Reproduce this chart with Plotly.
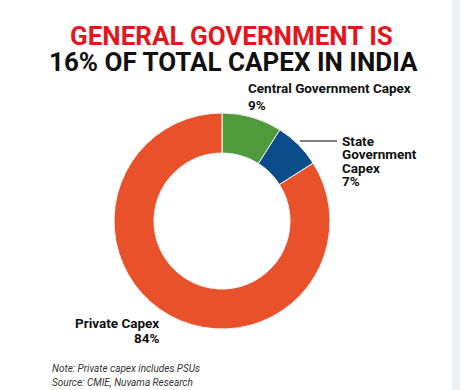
import plotly.graph_objects as go

W, H = 460, 390

categories = ["Central Government Capex", "State Government Capex", "Private Capex"]
values = [9, 7, 84]
colors = ["#4F9A3B", "#0B4C8A", "#E8512A"]

title_line1 = "GENERAL GOVERNMENT IS"
title_line2 = "16% OF TOTAL CAPEX IN INDIA"
note_lines = ["Note: Private capex includes PSUs", "Source: CMIE, Nuvama Research"]

def px(x):
    return x / W

def py(y):
    return 1 - y / H

cx, cy, r = 222, 221, 108

fig = go.Figure()
fig.add_trace(go.Pie(
    labels=categories,
    values=values,
    hole=0.63,
    sort=False,
    direction="clockwise",
    rotation=0,
    marker=dict(colors=colors, line=dict(color="#f4f4f4", width=1)),
    textinfo="none",
    hoverinfo="label+percent",
    showlegend=False,
    domain=dict(x=[px(cx - r), px(cx + r)], y=[py(cy + r), py(cy - r)]),
))

FONT = "Roboto"
ann = []
ann.append(dict(x=px(231), y=py(35.5), text="<b>" + title_line1 + "</b>", showarrow=False,
                xanchor="center", yanchor="middle",
                font=dict(family=FONT, size=26, color="#E3161E")))
ann.append(dict(x=px(234), y=py(62.5), text="<b>" + title_line2 + "</b>", showarrow=False,
                xanchor="center", yanchor="middle",
                font=dict(family=FONT, size=26, color="#111111")))

lab_font = dict(family=FONT, size=13.5, color="#111111")

def line_ann(x, y, text, anchor="left"):
    return dict(x=px(x), y=py(y), text="<b>" + text + "</b>", showarrow=False,
                xanchor=anchor, yanchor="middle", align=anchor, font=lab_font)

# Central label
ann.append(line_ann(246, 88.5, categories[0]))
ann.append(line_ann(246, 105, "%d%%" % values[0]))
# State label
for y, t in zip([141, 154, 167.5, 181], ["State", "Government", "Capex", "%d%%" % values[1]]):
    ann.append(line_ann(340, y, t))
# Private label
ann.append(line_ann(161, 323, categories[2], anchor="right"))
ann.append(line_ann(161, 337.5, "%d%%" % values[2], anchor="right"))

note_font = dict(family=FONT, size=10, color="#333333")
ann.append(dict(x=px(50), y=py(368), text="<i>" + note_lines[0] + "</i>", showarrow=False,
                xanchor="left", yanchor="middle", font=note_font))
ann.append(dict(x=px(50), y=py(382), text="<i>" + note_lines[1] + "</i>", showarrow=False,
                xanchor="left", yanchor="middle", font=note_font))

shapes = [
    dict(type="rect", xref="paper", yref="paper", x0=px(452), x1=1, y0=0, y1=1,
         fillcolor="#EEF0F3", line=dict(width=0), layer="below"),
    dict(type="line", xref="paper", yref="paper", x0=px(300), x1=px(337), y0=py(141), y1=py(141),
         line=dict(color="#555555", width=1.5)),
]

fig.update_layout(
    width=W, height=H,
    margin=dict(l=0, r=0, t=0, b=0),
    paper_bgcolor="#FFFFFF",
    plot_bgcolor="#FFFFFF",
    annotations=ann,
    shapes=shapes,
)

fig.write_html("out.html", config={"displayModeBar": False},
               post_script="document.body.style.margin='0';document.body.style.overflow='hidden';")
